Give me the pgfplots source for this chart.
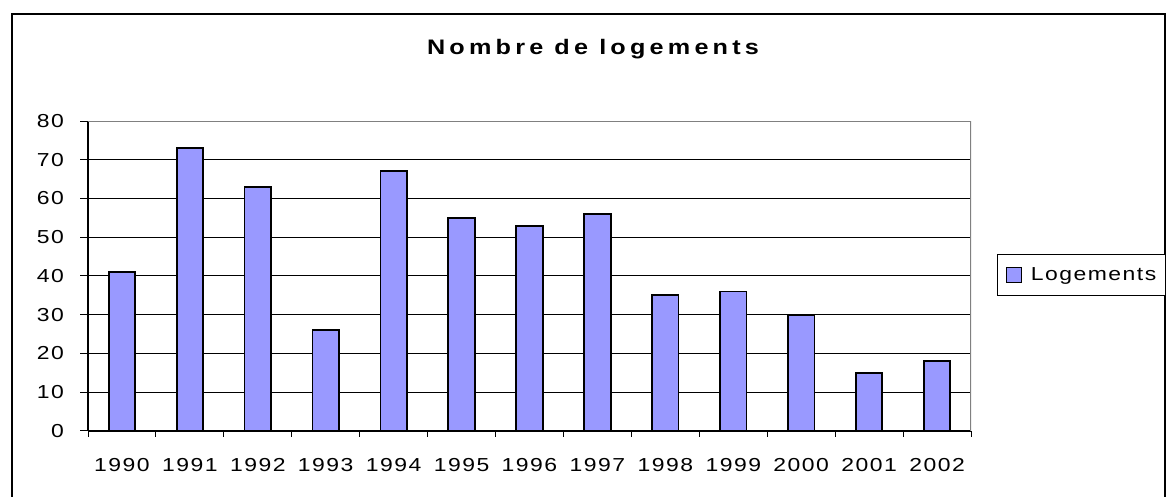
\documentclass[border=0pt]{standalone}
\usepackage{fontspec}
\setmainfont{Liberation Sans}
\newfontfamily\spaced{Liberation Sans}[FakeStretch=1.22, LetterSpace=8]
\newfontfamily\titlefont{Liberation Sans}[FakeStretch=1.2, LetterSpace=20]
\usepackage{pgfplots}
\pgfplotsset{compat=1.18}
\definecolor{barblue}{RGB}{153,153,255}
\definecolor{framegray}{RGB}{128,128,128}

\begin{document}
\begin{tikzpicture}[x=0.5pt,y=0.5pt]
\useasboundingbox (0,0) rectangle (1167,497);
\clip (0,0) rectangle (1167,497);
% chart frame (right and bottom edges fall outside the picture)
\draw[black, line width=0.7pt] (12,-20) rectangle (1165,483);
\node[font=\titlefont\bfseries\fontsize{10.5}{13}\selectfont] at (593,448) {Nombre de logements};

\begin{axis}[
    at={(44pt,33pt)}, anchor=south west,
    scale only axis, width=441.5pt, height=155pt,
    xmin=-0.5, xmax=12.5,
    ymin=0, ymax=80,
    ytick={0,10,...,80},
    xtick={0,...,12},
    xticklabels={1990,1991,1992,1993,1994,1995,1996,1997,1998,1999,2000,2001,2002},
    minor xtick={-0.5,0.5,...,12.5},
    axis lines*=left,
    axis line style={black, line width=0.7pt},
    tick align=outside,
    major tick length=4pt,
    minor tick length=3pt,
    x tick style={draw=none},
    minor x tick style={draw=black, line width=0.5pt},
    y tick style={black, line width=0.5pt},
    ymajorgrids=true,
    grid style={black, line width=0.5pt},
    /pgf/number format/assume math mode=true,
    tick label style={font=\spaced\fontsize{9.4}{11}\selectfont},
    yticklabel style={xshift=-4.5pt},
    xticklabel style={yshift=-6pt},
    legend style={at={(1.029,0.503)}, anchor=west, draw=black, line width=0.6pt,
        font=\spaced\fontsize{9.4}{11}\selectfont, inner xsep=4.5pt, inner ysep=4.3pt,
        nodes={inner xsep=0pt}, column sep=4.3pt},
    legend image code/.code={\draw[#1, line width=0.5pt] (0pt,-3.75pt) rectangle (7.5pt,3.75pt);},
]
\addplot[ybar, bar width=0.39, fill=barblue, draw=black, line width=0.9pt]
    coordinates {
      (0,41) (1,73) (2,63) (3,26) (4,67) (5,55) (6,53)
      (7,56) (8,35) (9,36) (10,30) (11,15) (12,18)
    };
\legend{Logements}
\draw[framegray, line width=0.8pt] (rel axis cs:0,1) -- (rel axis cs:1,1) -- (rel axis cs:1,0);
\end{axis}
\end{tikzpicture}
\end{document}
